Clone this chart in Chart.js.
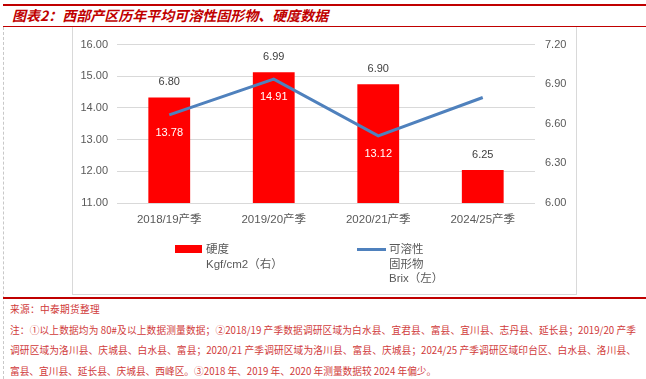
<!DOCTYPE html>
<html>
<head>
<meta charset="utf-8">
<script src="https://cdn.jsdelivr.net/npm/chart.js@4.4.1/dist/chart.umd.min.js"></script>
<style>
  html, body { margin: 0; padding: 0; background: #fff; }
  body { width: 646px; height: 379px; position: relative; overflow: hidden; font-family: "Liberation Sans", "Noto Sans CJK SC", sans-serif; }
  .abs { position: absolute; }
  #topline { left: 3px; top: 4px; width: 643px; height: 2px; background: #c00000; }
  #titleline { left: 3px; top: 26px; width: 643px; height: 1px; background: #c00000; }
  #bottomline { left: 3px; top: 297px; width: 643px; height: 2px; background: #c00000; }
  #dash { left: 3px; top: 27px; height: 352px; width: 0; border-left: 1px dashed #c8c8c8; }
  #title { left: 12px; top: 7px; font-family: "Noto Sans CJK SC", sans-serif; font-weight: bold; font-style: italic; font-size: 14px; line-height: 16px; color: #c00000; white-space: nowrap; }
  #box { left: 72px; top: 27px; width: 503px; height: 267px; border-left: 1px solid #d9d9d9; border-right: 1px solid #d9d9d9; border-bottom: 1px solid #d9d9d9; }
  #chart { left: 73px; top: 28px; }
  .leg { font-family: "Liberation Sans", "Noto Sans CJK SC", sans-serif; font-size: 11.5px; line-height: 14.5px; color: #595959; white-space: nowrap; }
  #notes { left: 10px; top: 299px; width: 626px; font-family: "Noto Sans CJK SC", sans-serif; font-size: 9.7px; line-height: 20.5px; color: #d03a3a; }
  #notes div { white-space: nowrap; }
  #notes .src { letter-spacing: 0.3px; }
  #notes .j { text-align: justify; text-align-last: justify; white-space: normal; height: 20.5px; overflow: hidden; }
</style>
</head>
<body>
<div id="topline" class="abs"></div>
<div id="title" class="abs">图表2：西部产区历年平均可溶性固形物、硬度数据</div>
<div id="titleline" class="abs"></div>
<div id="dash" class="abs"></div>
<div id="box" class="abs"></div>
<canvas id="chart" class="abs" width="502" height="266"></canvas>

<div class="abs" style="left:175px;top:245px;width:27px;height:8px;background:#ff0000;"></div>
<div class="abs leg" style="left:206px;top:242px;">硬度<br>Kgf/cm2（右）</div>
<div class="abs" style="left:357px;top:248px;width:29px;height:3px;background:#4f81bd;"></div>
<div class="abs leg" style="left:389px;top:242px;">可溶性<br>固形物<br>Brix（左）</div>

<div id="bottomline" class="abs"></div>
<div id="notes" class="abs">
  <div class="src">来源：中泰期货整理</div>
  <div class="j">注：①以上数据均为 80#及以上数据测量数据；②2018/19 产季数据调研区域为白水县、宜君县、富县、宜川县、志丹县、延长县；2019/20 产季</div>
  <div class="j">调研区域为洛川县、庆城县、白水县、富县；2020/21 产季调研区域为洛川县、富县、庆城县；2024/25 产季调研区域印台区、白水县、洛川县、</div>
  <div>富县、宜川县、延长县、庆城县、西峰区。③2018 年、2019 年、2020 年测量数据较 2024 年偏少。</div>
</div>

<script>
const categories = ['2018/19产季', '2019/20产季', '2020/21产季', '2024/25产季'];
const hardness = [6.80, 6.99, 6.90, 6.25];      // bars, right axis (Kgf/cm2)
const brix = [13.78, 14.91, 13.12, 14.33];       // line, left axis (Brix)
const leftAxis = { min: 11, max: 16, step: 1 };
const rightAxis = { min: 6.0, max: 7.2, step: 0.3 };

const tickFont = { family: '"Liberation Sans", "Noto Sans CJK SC", sans-serif', size: 11 };
const tickColor = '#595959';

const valueLabels = {
  id: 'valueLabels',
  afterDatasetsDraw(chart) {
    const ctx = chart.ctx;
    ctx.save();
    ctx.font = '11px "Liberation Sans", sans-serif';
    ctx.textAlign = 'center';
    ctx.textBaseline = 'middle';
    chart.data.datasets.forEach((ds, i) => {
      const meta = chart.getDatasetMeta(i);
      meta.data.forEach((el, j) => {
        const v = ds.data[j];
        if (ds.type === 'bar') {
          ctx.fillStyle = '#404040';
          ctx.fillText(v.toFixed(2), el.x, el.y - 15);
        } else {
          ctx.fillStyle = '#ffffff';
          ctx.fillText(v.toFixed(2), el.x, el.y + 18);
        }
      });
    });
    ctx.restore();
  }
};

new Chart(document.getElementById('chart'), {
  data: {
    labels: categories,
    datasets: [
      {
        type: 'line',
        label: '可溶性固形物 Brix（左）',
        data: brix,
        yAxisID: 'y',
        borderColor: '#4f81bd',
        backgroundColor: '#4f81bd',
        borderWidth: 3,
        pointRadius: 0,
        tension: 0,
        order: 0
      },
      {
        type: 'bar',
        label: '硬度 Kgf/cm2（右）',
        data: hardness,
        yAxisID: 'y1',
        backgroundColor: '#ff0000',
        barPercentage: 0.4,
        categoryPercentage: 1.0,
        order: 1
      }
    ]
  },
  options: {
    responsive: false,
    animation: false,
    devicePixelRatio: 1,
    layout: { padding: { top: 15, left: 0, right: 0, bottom: 0 } },
    plugins: { legend: { display: false }, tooltip: { enabled: false } },
    scales: {
      x: {
        grid: { display: false, drawTicks: false },
        border: { display: false },
        ticks: { color: tickColor, font: { family: tickFont.family, size: 11.5 }, padding: 10, maxRotation: 0 },
        afterFit(s) { s.height = 91; }
      },
      y: {
        position: 'left',
        min: leftAxis.min, max: leftAxis.max,
        grid: { color: '#d9d9d9', drawTicks: false },
        border: { display: false },
        ticks: { stepSize: leftAxis.step, color: tickColor, font: tickFont, padding: 9, callback: v => Number(v).toFixed(2) },
        afterFit(s) { s.width = 44; }
      },
      y1: {
        position: 'right',
        min: rightAxis.min, max: rightAxis.max,
        grid: { display: false, drawTicks: false },
        border: { display: false },
        ticks: { stepSize: rightAxis.step, color: tickColor, font: tickFont, padding: 10, callback: v => Number(v).toFixed(2) },
        afterFit(s) { s.width = 40; }
      }
    }
  },
  plugins: [valueLabels]
});
</script>
</body>
</html>
